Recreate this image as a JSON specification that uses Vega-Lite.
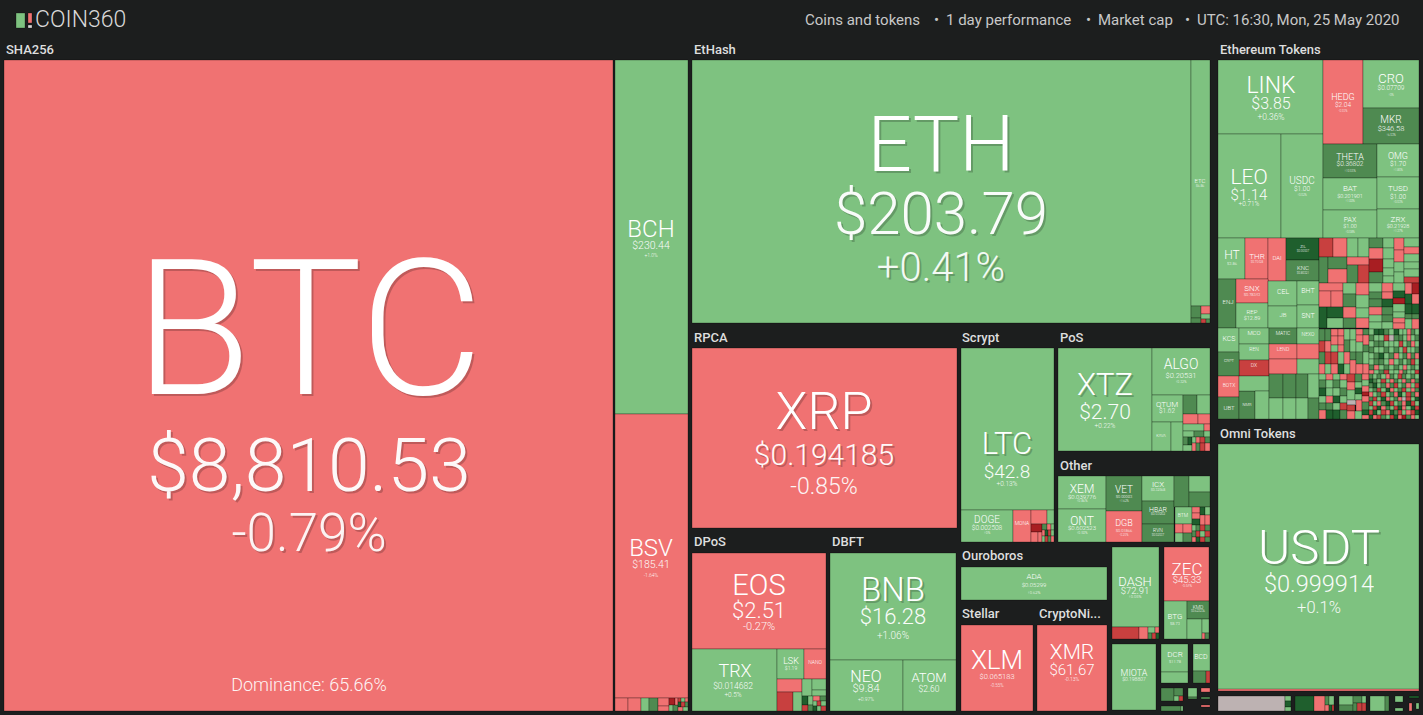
{"$schema":"https://vega.github.io/schema/vega-lite/v6.json","width":1423,"height":715,"padding":0,"autosize":"none","background":"#1c1e1e","config":{"view":{"stroke":null}},
"datasets":{"cells":[
{"name":"logo","x0":16,"x1":25,"y0":13,"y1":28,"m":"g1"},{"name":"logo","x0":28,"x1":32,"y0":13,"y1":23,"m":"r1"},{"name":"logo","x0":28,"x1":32,"y0":25,"y1":28,"m":"w"},
{"name":"BTC","x0":4,"x1":613,"y0":60,"y1":711,"m":"r1"},{"name":"BCH","x0":615,"x1":688,"y0":60,"y1":414,"m":"g1"},{"name":"BSV","x0":615,"x1":688,"y0":414,"y1":698,"m":"r1"},
{"x0":615,"x1":628,"y0":698,"y1":711,"m":"r1"},{"x0":628,"x1":641,"y0":698,"y1":711,"m":"r1"},{"x0":641,"x1":649,"y0":698,"y1":711,"m":"g1"},{"x0":649,"x1":658,"y0":698,"y1":711,"m":"g2"},{"x0":658,"x1":669,"y0":698,"y1":706,"m":"r1"},{"x0":658,"x1":669,"y0":706,"y1":711,"m":"r1"},{"x0":669,"x1":675,"y0":698,"y1":705,"m":"r3"},{"x0":669,"x1":673,"y0":705,"y1":711,"m":"g1"},{"x0":673,"x1":678,"y0":705,"y1":711,"m":"g2"},{"x0":675,"x1":678,"y0":698,"y1":705,"m":"r1"},{"x0":678,"x1":681,"y0":698,"y1":702,"m":"r2"},{"x0":681,"x1":685,"y0":698,"y1":702,"m":"g1"},{"x0":685,"x1":688,"y0":698,"y1":702,"m":"r1"},{"x0":678,"x1":681,"y0":702,"y1":707,"m":"g3"},{"x0":681,"x1":685,"y0":702,"y1":707,"m":"r2"},{"x0":685,"x1":688,"y0":702,"y1":707,"m":"g2"},{"x0":678,"x1":683,"y0":707,"y1":711,"m":"r1"},{"x0":683,"x1":688,"y0":707,"y1":711,"m":"g1"},
{"name":"ETH","x0":692,"x1":1191,"y0":60,"y1":323,"m":"g1"},{"name":"ETC","x0":1191,"x1":1210,"y0":60,"y1":306,"m":"g1"},{"x0":1191,"x1":1201,"y0":306,"y1":318,"m":"g2"},{"x0":1191,"x1":1201,"y0":318,"y1":323,"m":"g2"},{"x0":1201,"x1":1210,"y0":306,"y1":314,"m":"r1"},{"x0":1201,"x1":1210,"y0":314,"y1":319,"m":"g1"},{"x0":1201,"x1":1206,"y0":319,"y1":323,"m":"r2"},{"x0":1206,"x1":1210,"y0":319,"y1":323,"m":"g2"},
{"name":"XRP","x0":692,"x1":957,"y0":348,"y1":528,"m":"r1"},{"name":"LTC","x0":961,"x1":1054,"y0":348,"y1":510,"m":"g1"},{"name":"DOGE","x0":961,"x1":1013,"y0":510,"y1":542,"m":"g1"},{"name":"MONA","x0":1013,"x1":1031,"y0":510,"y1":542,"m":"r1"},{"x0":1031,"x1":1047,"y0":510,"y1":524,"m":"r1"},{"x0":1047,"x1":1054,"y0":510,"y1":524,"m":"g1"},{"x0":1031,"x1":1042,"y0":524,"y1":532,"m":"r3"},{"x0":1031,"x1":1038,"y0":532,"y1":542,"m":"r1"},{"x0":1038,"x1":1042,"y0":532,"y1":542,"m":"r1"},{"x0":1042,"x1":1047,"y0":524,"y1":530,"m":"g2"},{"x0":1047,"x1":1051,"y0":524,"y1":530,"m":"r1"},{"x0":1051,"x1":1054,"y0":524,"y1":530,"m":"g1"},{"x0":1042,"x1":1045,"y0":530,"y1":536,"m":"r1"},{"x0":1045,"x1":1048,"y0":530,"y1":536,"m":"g3"},{"x0":1048,"x1":1051,"y0":530,"y1":536,"m":"r2"},{"x0":1051,"x1":1054,"y0":530,"y1":536,"m":"g1"},{"x0":1042,"x1":1045,"y0":536,"y1":542,"m":"g1"},{"x0":1045,"x1":1048,"y0":536,"y1":542,"m":"r2"},{"x0":1048,"x1":1051,"y0":536,"y1":542,"m":"g2"},{"x0":1051,"x1":1054,"y0":536,"y1":542,"m":"r1"},
{"name":"XTZ","x0":1058,"x1":1152,"y0":348,"y1":451,"m":"g1"},{"name":"ALGO","x0":1152,"x1":1210,"y0":348,"y1":395,"m":"g1"},{"name":"QTUM","x0":1152,"x1":1183,"y0":395,"y1":422,"m":"g1"},{"x0":1152,"x1":1171,"y0":422,"y1":451,"m":"g1"},{"x0":1171,"x1":1183,"y0":422,"y1":451,"m":"g1"},{"x0":1183,"x1":1197,"y0":395,"y1":414,"m":"g2"},{"x0":1197,"x1":1210,"y0":395,"y1":414,"m":"g1"},{"x0":1183,"x1":1198,"y0":414,"y1":424,"m":"r1"},{"x0":1198,"x1":1210,"y0":414,"y1":424,"m":"r1"},{"x0":1183,"x1":1204,"y0":424,"y1":431,"m":"g1"},{"x0":1204,"x1":1210,"y0":424,"y1":431,"m":"r1"},{"x0":1183,"x1":1194,"y0":431,"y1":437,"m":"g1"},{"x0":1194,"x1":1204,"y0":431,"y1":437,"m":"g2"},{"x0":1204,"x1":1210,"y0":431,"y1":437,"m":"g1"},{"x0":1183,"x1":1188,"y0":437,"y1":445,"m":"g2"},{"x0":1188,"x1":1192,"y0":437,"y1":445,"m":"g3"},{"x0":1192,"x1":1196,"y0":437,"y1":443,"m":"g1"},{"x0":1196,"x1":1200,"y0":437,"y1":443,"m":"r1"},{"x0":1200,"x1":1205,"y0":437,"y1":443,"m":"r2"},{"x0":1205,"x1":1210,"y0":437,"y1":443,"m":"g2"},{"x0":1183,"x1":1192,"y0":445,"y1":451,"m":"g1"},{"x0":1192,"x1":1196,"y0":443,"y1":451,"m":"r1"},{"x0":1196,"x1":1200,"y0":443,"y1":451,"m":"g2"},{"x0":1200,"x1":1205,"y0":443,"y1":451,"m":"r2"},{"x0":1205,"x1":1210,"y0":443,"y1":451,"m":"r1"},
{"name":"XEM","x0":1058,"x1":1106,"y0":476,"y1":509,"m":"g1"},{"name":"ONT","x0":1058,"x1":1106,"y0":509,"y1":542,"m":"g1"},{"name":"VET","x0":1106,"x1":1142,"y0":476,"y1":511,"m":"g2"},{"name":"DGB","x0":1106,"x1":1142,"y0":511,"y1":542,"m":"r1"},{"name":"ICX","x0":1142,"x1":1174,"y0":476,"y1":501,"m":"g1"},{"name":"HBAR","x0":1142,"x1":1174,"y0":501,"y1":524,"m":"g2"},{"name":"RVN","x0":1142,"x1":1174,"y0":524,"y1":542,"m":"g2"},{"x0":1174,"x1":1189,"y0":476,"y1":507,"m":"g2"},{"x0":1189,"x1":1210,"y0":476,"y1":492,"m":"g1"},{"x0":1189,"x1":1210,"y0":492,"y1":507,"m":"g2"},{"name":"BTM","x0":1175,"x1":1192,"y0":507,"y1":524,"m":"g1"},{"x0":1175,"x1":1183,"y0":524,"y1":533,"m":"r1"},{"x0":1183,"x1":1192,"y0":524,"y1":533,"m":"r1"},{"x0":1175,"x1":1183,"y0":533,"y1":542,"m":"g1"},{"x0":1183,"x1":1192,"y0":533,"y1":542,"m":"g2"},{"x0":1192,"x1":1200,"y0":507,"y1":513,"m":"r1"},{"x0":1192,"x1":1200,"y0":513,"y1":519,"m":"r1"},{"x0":1200,"x1":1205,"y0":507,"y1":515,"m":"g3"},{"x0":1205,"x1":1210,"y0":507,"y1":515,"m":"g1"},{"x0":1192,"x1":1200,"y0":519,"y1":525,"m":"g3"},{"x0":1200,"x1":1205,"y0":515,"y1":525,"m":"r1"},{"x0":1205,"x1":1210,"y0":515,"y1":525,"m":"r1"},{"x0":1192,"x1":1196,"y0":525,"y1":531,"m":"g1"},{"x0":1196,"x1":1200,"y0":525,"y1":531,"m":"g2"},{"x0":1200,"x1":1205,"y0":525,"y1":531,"m":"r2"},{"x0":1205,"x1":1210,"y0":525,"y1":531,"m":"g2"},{"x0":1192,"x1":1196,"y0":531,"y1":537,"m":"g2"},{"x0":1196,"x1":1200,"y0":531,"y1":537,"m":"r2"},{"x0":1200,"x1":1205,"y0":531,"y1":537,"m":"g1"},{"x0":1205,"x1":1210,"y0":531,"y1":537,"m":"r2"},{"x0":1192,"x1":1196,"y0":537,"y1":542,"m":"r1"},{"x0":1196,"x1":1200,"y0":537,"y1":542,"m":"g3"},{"x0":1200,"x1":1205,"y0":537,"y1":542,"m":"r2"},{"x0":1205,"x1":1210,"y0":537,"y1":542,"m":"g2"},
{"name":"EOS","x0":692,"x1":826,"y0":553,"y1":649,"m":"r1"},{"name":"TRX","x0":692,"x1":777,"y0":649,"y1":711,"m":"g1"},{"name":"LSK","x0":777,"x1":804,"y0":649,"y1":679,"m":"g1"},{"name":"NANO","x0":804,"x1":826,"y0":649,"y1":679,"m":"r1"},{"x0":777,"x1":802,"y0":679,"y1":692,"m":"r1"},{"x0":777,"x1":793,"y0":692,"y1":711,"m":"r2"},{"x0":793,"x1":802,"y0":692,"y1":711,"m":"g1"},{"x0":802,"x1":812,"y0":679,"y1":696,"m":"g1"},{"x0":812,"x1":826,"y0":679,"y1":690,"m":"g1"},{"x0":812,"x1":826,"y0":690,"y1":696,"m":"g1"},{"x0":802,"x1":808,"y0":696,"y1":705,"m":"g3"},{"x0":808,"x1":813,"y0":696,"y1":705,"m":"g1"},{"x0":802,"x1":808,"y0":705,"y1":711,"m":"r2"},{"x0":808,"x1":813,"y0":705,"y1":711,"m":"g2"},{"x0":813,"x1":820,"y0":696,"y1":701,"m":"r1"},{"x0":820,"x1":826,"y0":696,"y1":701,"m":"g2"},{"x0":813,"x1":817,"y0":701,"y1":706,"m":"g1"},{"x0":817,"x1":821,"y0":701,"y1":706,"m":"r2"},{"x0":821,"x1":826,"y0":701,"y1":706,"m":"g1"},{"x0":813,"x1":817,"y0":706,"y1":711,"m":"g3"},{"x0":817,"x1":821,"y0":706,"y1":711,"m":"g1"},{"x0":821,"x1":826,"y0":706,"y1":711,"m":"r2"},
{"name":"BNB","x0":830,"x1":956,"y0":553,"y1":660,"m":"g1"},{"name":"NEO","x0":830,"x1":903,"y0":660,"y1":711,"m":"g1"},{"name":"ATOM","x0":903,"x1":956,"y0":660,"y1":711,"m":"g1"},{"name":"ADA","x0":961,"x1":1107,"y0":567,"y1":600,"m":"g1"},{"name":"XLM","x0":961,"x1":1033,"y0":625,"y1":711,"m":"r1"},{"name":"XMR","x0":1037,"x1":1107,"y0":625,"y1":711,"m":"r1"},
{"name":"DASH","x0":1112,"x1":1159,"y0":547,"y1":627,"m":"g1"},{"x0":1112,"x1":1139,"y0":627,"y1":639,"m":"r2"},{"x0":1139,"x1":1148,"y0":627,"y1":639,"m":"r1"},{"x0":1148,"x1":1155,"y0":627,"y1":633,"m":"g1"},{"x0":1155,"x1":1159,"y0":627,"y1":633,"m":"r1"},{"x0":1148,"x1":1152,"y0":633,"y1":639,"m":"g2"},{"x0":1152,"x1":1156,"y0":633,"y1":639,"m":"r2"},{"x0":1156,"x1":1159,"y0":633,"y1":639,"m":"g3"},
{"name":"ZEC","x0":1164,"x1":1209,"y0":547,"y1":601,"m":"r1"},{"name":"BTG","x0":1164,"x1":1187,"y0":601,"y1":639,"m":"g1"},{"name":"KMD","x0":1187,"x1":1209,"y0":601,"y1":619,"m":"g2"},{"x0":1187,"x1":1202,"y0":619,"y1":639,"m":"g1"},{"x0":1202,"x1":1209,"y0":619,"y1":633,"m":"g1"},{"x0":1202,"x1":1205,"y0":633,"y1":639,"m":"r1"},{"x0":1205,"x1":1209,"y0":633,"y1":639,"m":"g2"},
{"name":"MIOTA","x0":1112,"x1":1156,"y0":644,"y1":710,"m":"g1"},{"name":"DCR","x0":1161,"x1":1188,"y0":644,"y1":672,"m":"g1"},{"x0":1161,"x1":1188,"y0":672,"y1":683,"m":"g1"},{"name":"BCD","x0":1193,"x1":1210,"y0":644,"y1":671,"m":"g1"},{"x0":1193,"x1":1206,"y0":671,"y1":683,"m":"g2"},{"x0":1206,"x1":1210,"y0":671,"y1":683,"m":"r2"},
{"x0":1161,"x1":1174,"y0":688,"y1":701,"m":"g2"},{"x0":1174,"x1":1183,"y0":688,"y1":696,"m":"g2"},{"x0":1174,"x1":1179,"y0":696,"y1":701,"m":"g1"},{"x0":1179,"x1":1183,"y0":696,"y1":701,"m":"r2"},{"x0":1188,"x1":1197,"y0":688,"y1":697,"m":"g1"},{"x0":1188,"x1":1197,"y0":697,"y1":699,"m":"g2"},{"x0":1201,"x1":1210,"y0":688,"y1":692,"m":"r1"},{"x0":1201,"x1":1210,"y0":697,"y1":699,"m":"g2"},{"x0":1161,"x1":1181,"y0":706,"y1":711,"m":"g2"},{"x0":1181,"x1":1183,"y0":706,"y1":711,"m":"g1"},{"x0":1201,"x1":1210,"y0":705,"y1":707,"m":"r1"},
{"name":"USDT","x0":1218,"x1":1419,"y0":444,"y1":690,"m":"g1"},{"x0":1218,"x1":1419,"y0":689,"y1":691,"m":"r1"},{"x0":1218,"x1":1285,"y0":696,"y1":711,"m":"n"},{"x0":1285,"x1":1291,"y0":696,"y1":701,"m":"g1"},{"x0":1285,"x1":1291,"y0":701,"y1":707,"m":"g3"},{"x0":1285,"x1":1291,"y0":707,"y1":711,"m":"g1"},{"x0":1295,"x1":1314,"y0":696,"y1":711,"m":"g3"},{"x0":1314,"x1":1325,"y0":696,"y1":711,"m":"r1"},{"x0":1325,"x1":1329,"y0":696,"y1":705,"m":"g2"},{"x0":1329,"x1":1334,"y0":696,"y1":705,"m":"g1"},{"x0":1325,"x1":1329,"y0":705,"y1":711,"m":"r1"},{"x0":1329,"x1":1332,"y0":705,"y1":711,"m":"g3"},{"x0":1332,"x1":1334,"y0":705,"y1":711,"m":"r2"},{"x0":1339,"x1":1353,"y0":696,"y1":705,"m":"g1"},{"x0":1339,"x1":1353,"y0":705,"y1":711,"m":"g2"},{"x0":1353,"x1":1362,"y0":696,"y1":703,"m":"g2"},{"x0":1362,"x1":1366,"y0":696,"y1":703,"m":"g1"},{"x0":1353,"x1":1357,"y0":703,"y1":711,"m":"g2"},{"x0":1357,"x1":1362,"y0":703,"y1":711,"m":"r2"},{"x0":1362,"x1":1366,"y0":703,"y1":711,"m":"r2"},{"x0":1370,"x1":1385,"y0":696,"y1":711,"m":"g1"},{"x0":1385,"x1":1389,"y0":696,"y1":711,"m":"g2"},{"x0":1395,"x1":1403,"y0":696,"y1":702,"m":"g1"},{"x0":1395,"x1":1403,"y0":708,"y1":711,"m":"g1"},{"x0":1409,"x1":1419,"y0":696,"y1":698,"m":"g3"},{"x0":1409,"x1":1412,"y0":703,"y1":711,"m":"r1"},{"x0":1416,"x1":1419,"y0":703,"y1":709,"m":"g1"},
{"name":"LINK","x0":1218,"x1":1323,"y0":60,"y1":134,"m":"g1"},{"name":"LEO","x0":1218,"x1":1281,"y0":134,"y1":238,"m":"g1"},{"name":"USDC","x0":1281,"x1":1323,"y0":134,"y1":238,"m":"g1"},{"name":"HEDG","x0":1323,"x1":1363,"y0":60,"y1":144,"m":"r1"},{"name":"CRO","x0":1363,"x1":1419,"y0":60,"y1":108,"m":"g1"},{"name":"MKR","x0":1363,"x1":1419,"y0":108,"y1":144,"m":"g2"},{"name":"THETA","x0":1323,"x1":1377,"y0":144,"y1":178,"m":"g2"},{"name":"OMG","x0":1377,"x1":1419,"y0":144,"y1":177,"m":"g1"},{"name":"BAT","x0":1323,"x1":1377,"y0":178,"y1":210,"m":"g1"},{"name":"TUSD","x0":1377,"x1":1419,"y0":177,"y1":209,"m":"g1"},{"name":"PAX","x0":1323,"x1":1377,"y0":210,"y1":238,"m":"g1"},{"name":"ZRX","x0":1377,"x1":1419,"y0":209,"y1":238,"m":"g1"},
{"name":"HT","x0":1218,"x1":1245,"y0":238,"y1":279,"m":"g1"},{"name":"THR","x0":1245,"x1":1268,"y0":238,"y1":279,"m":"r1"},{"name":"DAI","x0":1268,"x1":1286,"y0":238,"y1":281,"m":"r1"},{"name":"ZIL","x0":1286,"x1":1319,"y0":238,"y1":260,"m":"g3"},{"name":"KNC","x0":1286,"x1":1319,"y0":260,"y1":281,"m":"g2"},{"name":"ENJ","x0":1218,"x1":1236,"y0":279,"y1":328,"m":"g2"},{"name":"SNX","x0":1236,"x1":1268,"y0":279,"y1":303,"m":"r1"},{"name":"REP","x0":1236,"x1":1268,"y0":303,"y1":328,"m":"g1"},{"name":"CEL","x0":1268,"x1":1297,"y0":281,"y1":306,"m":"g1"},{"name":"BHT","x0":1297,"x1":1319,"y0":281,"y1":305,"m":"g1"},{"name":"JB","x0":1268,"x1":1297,"y0":306,"y1":328,"m":"g1"},{"name":"SNT","x0":1297,"x1":1319,"y0":305,"y1":328,"m":"g1"},{"name":"KCS","x0":1218,"x1":1239,"y0":328,"y1":352,"m":"g1"},{"name":"MCO","x0":1239,"x1":1269,"y0":328,"y1":344,"m":"g1"},{"name":"REN","x0":1239,"x1":1269,"y0":344,"y1":360,"m":"g1"},{"name":"DX","x0":1239,"x1":1269,"y0":360,"y1":376,"m":"r2"},{"name":"MATIC","x0":1269,"x1":1297,"y0":328,"y1":344,"m":"g2"},{"name":"NEXO","x0":1297,"x1":1319,"y0":328,"y1":344,"m":"g1"},{"name":"LEND","x0":1269,"x1":1297,"y0":344,"y1":359,"m":"r1"},{"x0":1297,"x1":1319,"y0":344,"y1":359,"m":"r1"},{"x0":1269,"x1":1297,"y0":359,"y1":374,"m":"r1"},{"x0":1297,"x1":1319,"y0":359,"y1":374,"m":"g1"},{"x0":1218,"x1":1239,"y0":352,"y1":376,"m":"g2"},{"name":"BOTX","x0":1218,"x1":1239,"y0":376,"y1":397,"m":"r1"},{"name":"UBT","x0":1218,"x1":1239,"y0":397,"y1":419,"m":"g2"},{"x0":1239,"x1":1255,"y0":391,"y1":419,"m":"g2"},{"x0":1239,"x1":1269,"y0":376,"y1":391,"m":"g1"},{"x0":1255,"x1":1269,"y0":391,"y1":419,"m":"g1"},{"x0":1269,"x1":1283,"y0":374,"y1":398,"m":"g2"},{"x0":1283,"x1":1296,"y0":374,"y1":398,"m":"g2"},{"x0":1296,"x1":1308,"y0":374,"y1":398,"m":"g2"},{"x0":1308,"x1":1319,"y0":374,"y1":398,"m":"g1"},{"x0":1269,"x1":1283,"y0":398,"y1":419,"m":"g1"},{"x0":1283,"x1":1296,"y0":398,"y1":419,"m":"g1"},{"x0":1296,"x1":1308,"y0":398,"y1":419,"m":"g1"},{"x0":1308,"x1":1319,"y0":398,"y1":419,"m":"g2"},
{"x0":1319,"x1":1333,"y0":238,"y1":257,"m":"r2"},{"x0":1333,"x1":1347,"y0":238,"y1":257,"m":"r1"},{"x0":1347,"x1":1358,"y0":238,"y1":257,"m":"g1"},{"x0":1358,"x1":1369,"y0":238,"y1":257,"m":"g1"},{"x0":1319,"x1":1328,"y0":257,"y1":283,"m":"g2"},{"x0":1328,"x1":1347,"y0":257,"y1":269,"m":"g2"},{"x0":1328,"x1":1347,"y0":269,"y1":283,"m":"r1"},{"x0":1347,"x1":1369,"y0":257,"y1":265,"m":"r1"},{"x0":1347,"x1":1358,"y0":265,"y1":283,"m":"g2"},{"x0":1358,"x1":1369,"y0":265,"y1":283,"m":"r2"},{"x0":1319,"x1":1343,"y0":283,"y1":291,"m":"r1"},{"x0":1319,"x1":1331,"y0":291,"y1":307,"m":"r1"},{"x0":1331,"x1":1343,"y0":291,"y1":307,"m":"r1"},{"x0":1343,"x1":1356,"y0":283,"y1":294,"m":"g1"},{"x0":1343,"x1":1356,"y0":294,"y1":307,"m":"g2"},{"x0":1343,"x1":1356,"y0":307,"y1":318,"m":"r1"},{"x0":1343,"x1":1356,"y0":318,"y1":328,"m":"g2"},{"x0":1356,"x1":1369,"y0":283,"y1":295,"m":"r1"},{"x0":1356,"x1":1369,"y0":295,"y1":308,"m":"g1"},{"x0":1356,"x1":1369,"y0":308,"y1":318,"m":"g1"},{"x0":1356,"x1":1369,"y0":318,"y1":328,"m":"r1"},{"x0":1319,"x1":1327,"y0":307,"y1":328,"m":"g3"},{"x0":1327,"x1":1343,"y0":307,"y1":318,"m":"g3"},{"x0":1327,"x1":1343,"y0":318,"y1":328,"m":"g1"},
{"x0":1369,"x1":1383,"y0":238,"y1":248,"m":"g2"},{"x0":1369,"x1":1383,"y0":248,"y1":259,"m":"r1"},{"x0":1369,"x1":1383,"y0":259,"y1":272,"m":"r3"},{"x0":1369,"x1":1383,"y0":272,"y1":283,"m":"g2"},{"x0":1383,"x1":1394,"y0":238,"y1":248,"m":"g1"},{"x0":1383,"x1":1394,"y0":248,"y1":259,"m":"g1"},{"x0":1383,"x1":1394,"y0":259,"y1":268,"m":"g1"},{"x0":1383,"x1":1394,"y0":268,"y1":276,"m":"g1"},{"x0":1383,"x1":1394,"y0":276,"y1":283,"m":"g1"},{"x0":1394,"x1":1404,"y0":238,"y1":250,"m":"r1"},{"x0":1394,"x1":1404,"y0":250,"y1":262,"m":"r1"},{"x0":1394,"x1":1404,"y0":262,"y1":272,"m":"g1"},{"x0":1394,"x1":1404,"y0":272,"y1":283,"m":"g1"},{"x0":1404,"x1":1419,"y0":238,"y1":247,"m":"g1"},{"x0":1404,"x1":1419,"y0":247,"y1":254,"m":"r1"},{"x0":1404,"x1":1419,"y0":254,"y1":262,"m":"g1"},{"x0":1404,"x1":1419,"y0":262,"y1":269,"m":"g1"},{"x0":1404,"x1":1419,"y0":269,"y1":277,"m":"g1"},{"x0":1404,"x1":1419,"y0":277,"y1":283,"m":"r2"},
{"x0":1369,"x1":1382,"y0":283,"y1":292,"m":"g1"},{"x0":1369,"x1":1382,"y0":292,"y1":299,"m":"g2"},{"x0":1369,"x1":1382,"y0":299,"y1":307,"m":"g2"},{"x0":1369,"x1":1382,"y0":307,"y1":315,"m":"r1"},{"x0":1369,"x1":1382,"y0":315,"y1":322,"m":"g1"},{"x0":1369,"x1":1382,"y0":322,"y1":329,"m":"g1"},{"x0":1382,"x1":1393,"y0":283,"y1":292,"m":"r1"},{"x0":1382,"x1":1393,"y0":292,"y1":299,"m":"r1"},{"x0":1382,"x1":1393,"y0":299,"y1":307,"m":"g3"},{"x0":1382,"x1":1393,"y0":307,"y1":315,"m":"g2"},{"x0":1382,"x1":1393,"y0":315,"y1":322,"m":"g2"},{"x0":1382,"x1":1393,"y0":322,"y1":329,"m":"g1"},{"x0":1393,"x1":1405,"y0":283,"y1":291,"m":"g1"},{"x0":1393,"x1":1405,"y0":291,"y1":298,"m":"g3"},{"x0":1393,"x1":1405,"y0":298,"y1":304,"m":"r3"},{"x0":1393,"x1":1405,"y0":304,"y1":312,"m":"g1"},{"x0":1393,"x1":1405,"y0":312,"y1":318,"m":"g1"},{"x0":1393,"x1":1405,"y0":318,"y1":323,"m":"r1"},{"x0":1393,"x1":1405,"y0":323,"y1":329,"m":"r1"},{"x0":1405,"x1":1412,"y0":283,"y1":294,"m":"r1"},{"x0":1405,"x1":1412,"y0":294,"y1":304,"m":"g3"},{"x0":1405,"x1":1412,"y0":304,"y1":314,"m":"g3"},{"x0":1405,"x1":1412,"y0":314,"y1":319,"m":"g2"},{"x0":1405,"x1":1412,"y0":319,"y1":329,"m":"g1"},{"x0":1412,"x1":1419,"y0":283,"y1":294,"m":"r3"},{"x0":1412,"x1":1419,"y0":294,"y1":304,"m":"r1"},{"x0":1412,"x1":1419,"y0":304,"y1":314,"m":"g3"},{"x0":1412,"x1":1419,"y0":314,"y1":319,"m":"g2"},{"x0":1412,"x1":1419,"y0":319,"y1":329,"m":"r1"},
{"x0":1319,"x1":1325,"y0":329,"y1":341,"m":"g2"},{"x0":1319,"x1":1325,"y0":341,"y1":352,"m":"r2"},{"x0":1319,"x1":1325,"y0":352,"y1":364,"m":"g2"},{"x0":1319,"x1":1325,"y0":364,"y1":374,"m":"r1"},{"x0":1325,"x1":1331,"y0":329,"y1":341,"m":"g2"},{"x0":1325,"x1":1331,"y0":341,"y1":352,"m":"r1"},{"x0":1325,"x1":1331,"y0":352,"y1":364,"m":"r2"},{"x0":1325,"x1":1331,"y0":364,"y1":374,"m":"g1"},{"x0":1331,"x1":1338,"y0":329,"y1":336,"m":"r1"},{"x0":1331,"x1":1338,"y0":336,"y1":345,"m":"r1"},{"x0":1331,"x1":1338,"y0":345,"y1":352,"m":"g1"},{"x0":1331,"x1":1338,"y0":352,"y1":364,"m":"r2"},{"x0":1331,"x1":1338,"y0":364,"y1":374,"m":"r1"},{"x0":1338,"x1":1344,"y0":329,"y1":336,"m":"r1"},{"x0":1338,"x1":1344,"y0":336,"y1":345,"m":"r1"},{"x0":1338,"x1":1344,"y0":345,"y1":352,"m":"r1"},{"x0":1338,"x1":1344,"y0":352,"y1":364,"m":"g1"},{"x0":1338,"x1":1344,"y0":364,"y1":374,"m":"g3"},{"x0":1344,"x1":1350,"y0":329,"y1":340,"m":"g1"},{"x0":1344,"x1":1350,"y0":340,"y1":352,"m":"g2"},{"x0":1344,"x1":1350,"y0":352,"y1":364,"m":"r1"},{"x0":1344,"x1":1350,"y0":364,"y1":374,"m":"g1"},{"x0":1350,"x1":1356,"y0":329,"y1":340,"m":"g1"},{"x0":1350,"x1":1356,"y0":340,"y1":352,"m":"g1"},{"x0":1350,"x1":1356,"y0":352,"y1":360,"m":"g2"},{"x0":1350,"x1":1356,"y0":360,"y1":374,"m":"r1"},{"x0":1356,"x1":1363,"y0":329,"y1":335,"m":"r1"},{"x0":1356,"x1":1363,"y0":335,"y1":342,"m":"r1"},{"x0":1356,"x1":1363,"y0":342,"y1":352,"m":"g1"},{"x0":1356,"x1":1363,"y0":352,"y1":364,"m":"g2"},{"x0":1356,"x1":1363,"y0":364,"y1":374,"m":"r1"},{"x0":1363,"x1":1369,"y0":329,"y1":335,"m":"g2"},{"x0":1363,"x1":1369,"y0":335,"y1":345,"m":"r1"},{"x0":1363,"x1":1369,"y0":345,"y1":352,"m":"g2"},{"x0":1363,"x1":1369,"y0":352,"y1":364,"m":"g1"},{"x0":1363,"x1":1369,"y0":364,"y1":374,"m":"r1"},
{"x0":1369,"x1":1374,"y0":329,"y1":335,"m":"g1"},{"x0":1374,"x1":1379,"y0":329,"y1":335,"m":"g3"},{"x0":1379,"x1":1384,"y0":329,"y1":335,"m":"g3"},{"x0":1384,"x1":1389,"y0":329,"y1":335,"m":"g2"},{"x0":1389,"x1":1394,"y0":329,"y1":335,"m":"g1"},{"x0":1394,"x1":1399,"y0":329,"y1":335,"m":"g3"},{"x0":1399,"x1":1403,"y0":329,"y1":335,"m":"g1"},{"x0":1403,"x1":1407,"y0":329,"y1":335,"m":"g1"},{"x0":1407,"x1":1411,"y0":329,"y1":335,"m":"r1"},{"x0":1411,"x1":1415,"y0":329,"y1":335,"m":"g2"},{"x0":1415,"x1":1419,"y0":329,"y1":335,"m":"g1"},
{"x0":1369,"x1":1374,"y0":335,"y1":341,"m":"g2"},{"x0":1374,"x1":1379,"y0":335,"y1":341,"m":"g1"},{"x0":1379,"x1":1384,"y0":335,"y1":341,"m":"g1"},{"x0":1384,"x1":1389,"y0":335,"y1":341,"m":"r2"},{"x0":1389,"x1":1394,"y0":335,"y1":341,"m":"n"},{"x0":1394,"x1":1399,"y0":335,"y1":341,"m":"g2"},{"x0":1399,"x1":1403,"y0":335,"y1":341,"m":"g2"},{"x0":1403,"x1":1407,"y0":335,"y1":341,"m":"g1"},{"x0":1407,"x1":1411,"y0":335,"y1":341,"m":"r1"},{"x0":1411,"x1":1415,"y0":335,"y1":341,"m":"g1"},{"x0":1415,"x1":1419,"y0":335,"y1":341,"m":"g2"},
{"x0":1369,"x1":1374,"y0":341,"y1":347,"m":"g1"},{"x0":1374,"x1":1379,"y0":341,"y1":347,"m":"g2"},{"x0":1379,"x1":1384,"y0":341,"y1":347,"m":"g2"},{"x0":1384,"x1":1389,"y0":341,"y1":347,"m":"g1"},{"x0":1389,"x1":1394,"y0":341,"y1":347,"m":"g1"},{"x0":1394,"x1":1399,"y0":341,"y1":347,"m":"g1"},{"x0":1399,"x1":1403,"y0":341,"y1":347,"m":"r2"},{"x0":1403,"x1":1407,"y0":341,"y1":347,"m":"g1"},{"x0":1407,"x1":1411,"y0":341,"y1":347,"m":"g2"},{"x0":1411,"x1":1415,"y0":341,"y1":347,"m":"r1"},{"x0":1415,"x1":1419,"y0":341,"y1":347,"m":"g1"},
{"x0":1369,"x1":1374,"y0":347,"y1":353,"m":"g2"},{"x0":1374,"x1":1379,"y0":347,"y1":353,"m":"g1"},{"x0":1379,"x1":1384,"y0":347,"y1":353,"m":"g1"},{"x0":1384,"x1":1389,"y0":347,"y1":353,"m":"g2"},{"x0":1389,"x1":1394,"y0":347,"y1":353,"m":"g1"},{"x0":1394,"x1":1399,"y0":347,"y1":353,"m":"g2"},{"x0":1399,"x1":1403,"y0":347,"y1":353,"m":"g1"},{"x0":1403,"x1":1407,"y0":347,"y1":353,"m":"r2"},{"x0":1407,"x1":1411,"y0":347,"y1":353,"m":"g1"},{"x0":1411,"x1":1415,"y0":347,"y1":353,"m":"g1"},{"x0":1415,"x1":1419,"y0":347,"y1":353,"m":"g2"},
{"x0":1369,"x1":1374,"y0":353,"y1":359,"m":"g1"},{"x0":1374,"x1":1379,"y0":353,"y1":359,"m":"g2"},{"x0":1379,"x1":1384,"y0":353,"y1":359,"m":"g3"},{"x0":1384,"x1":1389,"y0":353,"y1":359,"m":"g1"},{"x0":1389,"x1":1394,"y0":353,"y1":359,"m":"g2"},{"x0":1394,"x1":1399,"y0":353,"y1":359,"m":"r1"},{"x0":1399,"x1":1403,"y0":353,"y1":359,"m":"g1"},{"x0":1403,"x1":1407,"y0":353,"y1":359,"m":"g2"},{"x0":1407,"x1":1411,"y0":353,"y1":359,"m":"r1"},{"x0":1411,"x1":1415,"y0":353,"y1":359,"m":"g2"},{"x0":1415,"x1":1419,"y0":353,"y1":359,"m":"r1"},
{"x0":1369,"x1":1374,"y0":359,"y1":365,"m":"g1"},{"x0":1374,"x1":1379,"y0":359,"y1":365,"m":"g2"},{"x0":1379,"x1":1384,"y0":359,"y1":365,"m":"g2"},{"x0":1384,"x1":1389,"y0":359,"y1":365,"m":"g1"},{"x0":1389,"x1":1394,"y0":359,"y1":365,"m":"r1"},{"x0":1394,"x1":1399,"y0":359,"y1":365,"m":"g1"},{"x0":1399,"x1":1403,"y0":359,"y1":365,"m":"g2"},{"x0":1403,"x1":1407,"y0":359,"y1":365,"m":"g1"},{"x0":1407,"x1":1411,"y0":359,"y1":365,"m":"g2"},{"x0":1411,"x1":1415,"y0":359,"y1":365,"m":"r2"},{"x0":1415,"x1":1419,"y0":359,"y1":365,"m":"g1"},
{"x0":1369,"x1":1374,"y0":365,"y1":370,"m":"g2"},{"x0":1374,"x1":1379,"y0":365,"y1":370,"m":"r1"},{"x0":1379,"x1":1384,"y0":365,"y1":370,"m":"g1"},{"x0":1384,"x1":1389,"y0":365,"y1":370,"m":"g2"},{"x0":1389,"x1":1394,"y0":365,"y1":370,"m":"g1"},{"x0":1394,"x1":1399,"y0":365,"y1":370,"m":"g2"},{"x0":1399,"x1":1403,"y0":365,"y1":370,"m":"g1"},{"x0":1403,"x1":1407,"y0":365,"y1":370,"m":"r1"},{"x0":1407,"x1":1411,"y0":365,"y1":370,"m":"g1"},{"x0":1411,"x1":1415,"y0":365,"y1":370,"m":"g2"},{"x0":1415,"x1":1419,"y0":365,"y1":370,"m":"g1"},
{"x0":1369,"x1":1374,"y0":370,"y1":374,"m":"r1"},{"x0":1374,"x1":1379,"y0":370,"y1":374,"m":"g1"},{"x0":1379,"x1":1384,"y0":370,"y1":374,"m":"g2"},{"x0":1384,"x1":1389,"y0":370,"y1":374,"m":"r2"},{"x0":1389,"x1":1394,"y0":370,"y1":374,"m":"g1"},{"x0":1394,"x1":1399,"y0":370,"y1":374,"m":"g1"},{"x0":1399,"x1":1403,"y0":370,"y1":374,"m":"r1"},{"x0":1403,"x1":1407,"y0":370,"y1":374,"m":"g2"},{"x0":1407,"x1":1411,"y0":370,"y1":374,"m":"g1"},{"x0":1411,"x1":1415,"y0":370,"y1":374,"m":"g1"},{"x0":1415,"x1":1419,"y0":370,"y1":374,"m":"r2"},
{"x0":1319,"x1":1326,"y0":374,"y1":380,"m":"g1"},{"x0":1319,"x1":1326,"y0":380,"y1":388,"m":"g2"},{"x0":1319,"x1":1326,"y0":388,"y1":396,"m":"g3"},{"x0":1319,"x1":1326,"y0":396,"y1":403,"m":"g1"},{"x0":1319,"x1":1326,"y0":403,"y1":410,"m":"g2"},{"x0":1319,"x1":1326,"y0":410,"y1":419,"m":"r1"},{"x0":1326,"x1":1333,"y0":374,"y1":380,"m":"r1"},{"x0":1326,"x1":1333,"y0":380,"y1":388,"m":"g1"},{"x0":1326,"x1":1333,"y0":388,"y1":396,"m":"g1"},{"x0":1326,"x1":1333,"y0":396,"y1":403,"m":"r1"},{"x0":1326,"x1":1333,"y0":403,"y1":410,"m":"g2"},{"x0":1326,"x1":1333,"y0":410,"y1":419,"m":"g3"},{"x0":1333,"x1":1340,"y0":374,"y1":380,"m":"g1"},{"x0":1333,"x1":1340,"y0":380,"y1":388,"m":"g2"},{"x0":1333,"x1":1340,"y0":388,"y1":396,"m":"g1"},{"x0":1333,"x1":1340,"y0":396,"y1":403,"m":"g3"},{"x0":1333,"x1":1340,"y0":403,"y1":410,"m":"g1"},{"x0":1333,"x1":1340,"y0":410,"y1":419,"m":"g3"},{"x0":1340,"x1":1347,"y0":374,"y1":380,"m":"r1"},{"x0":1340,"x1":1347,"y0":380,"y1":388,"m":"g1"},{"x0":1340,"x1":1347,"y0":388,"y1":396,"m":"g2"},{"x0":1340,"x1":1347,"y0":396,"y1":403,"m":"g1"},{"x0":1340,"x1":1347,"y0":403,"y1":410,"m":"r2"},{"x0":1340,"x1":1347,"y0":410,"y1":419,"m":"g2"},{"x0":1347,"x1":1355,"y0":374,"y1":382,"m":"r2"},{"x0":1347,"x1":1355,"y0":382,"y1":390,"m":"r1"},{"x0":1347,"x1":1355,"y0":390,"y1":400,"m":"g1"},{"x0":1347,"x1":1356,"y0":400,"y1":405,"m":"n"},{"x0":1347,"x1":1355,"y0":405,"y1":411,"m":"r2"},{"x0":1347,"x1":1355,"y0":411,"y1":419,"m":"r1"},{"x0":1355,"x1":1362,"y0":374,"y1":382,"m":"g2"},{"x0":1355,"x1":1362,"y0":382,"y1":388,"m":"g1"},{"x0":1355,"x1":1362,"y0":388,"y1":394,"m":"g3"},{"x0":1355,"x1":1362,"y0":394,"y1":400,"m":"g1"},{"x0":1356,"x1":1362,"y0":400,"y1":411,"m":"r1"},{"x0":1355,"x1":1362,"y0":411,"y1":419,"m":"g1"},{"x0":1362,"x1":1369,"y0":374,"y1":380,"m":"r1"},{"x0":1362,"x1":1369,"y0":380,"y1":386,"m":"g1"},{"x0":1362,"x1":1369,"y0":386,"y1":392,"m":"r1"},{"x0":1362,"x1":1369,"y0":392,"y1":396,"m":"r3"},{"x0":1362,"x1":1369,"y0":396,"y1":402,"m":"r1"},{"x0":1362,"x1":1369,"y0":402,"y1":410,"m":"g2"},{"x0":1362,"x1":1369,"y0":410,"y1":415,"m":"g3"},{"x0":1362,"x1":1369,"y0":415,"y1":419,"m":"r1"},
{"x0":1369,"x1":1373,"y0":374,"y1":379,"m":"g2"},{"x0":1373,"x1":1377,"y0":374,"y1":379,"m":"g1"},{"x0":1377,"x1":1381,"y0":374,"y1":379,"m":"g2"},{"x0":1381,"x1":1386,"y0":374,"y1":379,"m":"g1"},{"x0":1386,"x1":1390,"y0":374,"y1":379,"m":"r1"},{"x0":1390,"x1":1394,"y0":374,"y1":379,"m":"g2"},{"x0":1394,"x1":1398,"y0":374,"y1":379,"m":"g1"},{"x0":1398,"x1":1402,"y0":374,"y1":379,"m":"r2"},{"x0":1402,"x1":1406,"y0":374,"y1":379,"m":"g2"},{"x0":1406,"x1":1411,"y0":374,"y1":379,"m":"g1"},{"x0":1411,"x1":1415,"y0":374,"y1":379,"m":"g2"},{"x0":1415,"x1":1419,"y0":374,"y1":379,"m":"g1"},
{"x0":1369,"x1":1373,"y0":379,"y1":383,"m":"g3"},{"x0":1373,"x1":1377,"y0":379,"y1":383,"m":"g2"},{"x0":1377,"x1":1381,"y0":379,"y1":383,"m":"g1"},{"x0":1381,"x1":1386,"y0":379,"y1":383,"m":"r2"},{"x0":1386,"x1":1390,"y0":379,"y1":383,"m":"g1"},{"x0":1390,"x1":1394,"y0":379,"y1":383,"m":"r1"},{"x0":1394,"x1":1398,"y0":379,"y1":383,"m":"g2"},{"x0":1398,"x1":1402,"y0":379,"y1":383,"m":"g1"},{"x0":1402,"x1":1406,"y0":379,"y1":383,"m":"r1"},{"x0":1406,"x1":1411,"y0":379,"y1":383,"m":"g2"},{"x0":1411,"x1":1415,"y0":379,"y1":383,"m":"r1"},{"x0":1415,"x1":1419,"y0":379,"y1":383,"m":"g2"},
{"x0":1369,"x1":1373,"y0":383,"y1":388,"m":"g2"},{"x0":1373,"x1":1377,"y0":383,"y1":388,"m":"g3"},{"x0":1377,"x1":1381,"y0":383,"y1":388,"m":"g1"},{"x0":1381,"x1":1386,"y0":383,"y1":388,"m":"g2"},{"x0":1386,"x1":1390,"y0":383,"y1":388,"m":"r1"},{"x0":1390,"x1":1394,"y0":383,"y1":388,"m":"g2"},{"x0":1394,"x1":1398,"y0":383,"y1":388,"m":"r2"},{"x0":1398,"x1":1402,"y0":383,"y1":388,"m":"g1"},{"x0":1402,"x1":1406,"y0":383,"y1":388,"m":"g2"},{"x0":1406,"x1":1411,"y0":383,"y1":388,"m":"r1"},{"x0":1411,"x1":1415,"y0":383,"y1":388,"m":"g1"},{"x0":1415,"x1":1419,"y0":383,"y1":388,"m":"r2"},
{"x0":1369,"x1":1373,"y0":388,"y1":392,"m":"g1"},{"x0":1373,"x1":1377,"y0":388,"y1":392,"m":"g2"},{"x0":1377,"x1":1381,"y0":388,"y1":392,"m":"r2"},{"x0":1381,"x1":1386,"y0":388,"y1":392,"m":"g1"},{"x0":1386,"x1":1390,"y0":388,"y1":392,"m":"g3"},{"x0":1390,"x1":1394,"y0":388,"y1":392,"m":"r1"},{"x0":1394,"x1":1398,"y0":388,"y1":392,"m":"g1"},{"x0":1398,"x1":1402,"y0":388,"y1":392,"m":"g2"},{"x0":1402,"x1":1406,"y0":388,"y1":392,"m":"r2"},{"x0":1406,"x1":1411,"y0":388,"y1":392,"m":"g1"},{"x0":1411,"x1":1415,"y0":388,"y1":392,"m":"r1"},{"x0":1415,"x1":1419,"y0":388,"y1":392,"m":"g2"},
{"x0":1369,"x1":1373,"y0":392,"y1":397,"m":"r1"},{"x0":1373,"x1":1377,"y0":392,"y1":397,"m":"g1"},{"x0":1377,"x1":1381,"y0":392,"y1":397,"m":"g2"},{"x0":1381,"x1":1386,"y0":392,"y1":397,"m":"r2"},{"x0":1386,"x1":1390,"y0":392,"y1":397,"m":"g1"},{"x0":1390,"x1":1394,"y0":392,"y1":397,"m":"g2"},{"x0":1394,"x1":1398,"y0":392,"y1":397,"m":"r1"},{"x0":1398,"x1":1402,"y0":392,"y1":397,"m":"g3"},{"x0":1402,"x1":1406,"y0":392,"y1":397,"m":"g1"},{"x0":1406,"x1":1411,"y0":392,"y1":397,"m":"r2"},{"x0":1411,"x1":1415,"y0":392,"y1":397,"m":"g2"},{"x0":1415,"x1":1419,"y0":392,"y1":397,"m":"r1"},
{"x0":1369,"x1":1373,"y0":397,"y1":401,"m":"g2"},{"x0":1373,"x1":1377,"y0":397,"y1":401,"m":"r2"},{"x0":1377,"x1":1381,"y0":397,"y1":401,"m":"g1"},{"x0":1381,"x1":1386,"y0":397,"y1":401,"m":"g3"},{"x0":1386,"x1":1390,"y0":397,"y1":401,"m":"r1"},{"x0":1390,"x1":1394,"y0":397,"y1":401,"m":"g1"},{"x0":1394,"x1":1398,"y0":397,"y1":401,"m":"g2"},{"x0":1398,"x1":1402,"y0":397,"y1":401,"m":"r1"},{"x0":1402,"x1":1406,"y0":397,"y1":401,"m":"n"},{"x0":1406,"x1":1411,"y0":397,"y1":401,"m":"r2"},{"x0":1411,"x1":1415,"y0":397,"y1":401,"m":"g1"},{"x0":1415,"x1":1419,"y0":397,"y1":401,"m":"g3"},
{"x0":1369,"x1":1373,"y0":401,"y1":406,"m":"r2"},{"x0":1373,"x1":1377,"y0":401,"y1":406,"m":"g1"},{"x0":1377,"x1":1381,"y0":401,"y1":406,"m":"r1"},{"x0":1381,"x1":1386,"y0":401,"y1":406,"m":"g2"},{"x0":1386,"x1":1390,"y0":401,"y1":406,"m":"g3"},{"x0":1390,"x1":1394,"y0":401,"y1":406,"m":"r2"},{"x0":1394,"x1":1398,"y0":401,"y1":406,"m":"g1"},{"x0":1398,"x1":1402,"y0":401,"y1":406,"m":"g2"},{"x0":1402,"x1":1406,"y0":401,"y1":406,"m":"r1"},{"x0":1406,"x1":1411,"y0":401,"y1":406,"m":"g3"},{"x0":1411,"x1":1415,"y0":401,"y1":406,"m":"r2"},{"x0":1415,"x1":1419,"y0":401,"y1":406,"m":"g1"},
{"x0":1369,"x1":1373,"y0":406,"y1":410,"m":"g1"},{"x0":1373,"x1":1377,"y0":406,"y1":410,"m":"r2"},{"x0":1377,"x1":1381,"y0":406,"y1":410,"m":"g3"},{"x0":1381,"x1":1386,"y0":406,"y1":410,"m":"r1"},{"x0":1386,"x1":1390,"y0":406,"y1":410,"m":"g2"},{"x0":1390,"x1":1394,"y0":406,"y1":410,"m":"g1"},{"x0":1394,"x1":1398,"y0":406,"y1":410,"m":"r2"},{"x0":1398,"x1":1402,"y0":406,"y1":410,"m":"g3"},{"x0":1402,"x1":1406,"y0":406,"y1":410,"m":"r1"},{"x0":1406,"x1":1411,"y0":406,"y1":410,"m":"g1"},{"x0":1411,"x1":1415,"y0":406,"y1":410,"m":"g3"},{"x0":1415,"x1":1419,"y0":406,"y1":410,"m":"r2"},
{"x0":1369,"x1":1373,"y0":410,"y1":415,"m":"r2"},{"x0":1373,"x1":1377,"y0":410,"y1":415,"m":"g3"},{"x0":1377,"x1":1381,"y0":410,"y1":415,"m":"g1"},{"x0":1381,"x1":1386,"y0":410,"y1":415,"m":"r2"},{"x0":1386,"x1":1390,"y0":410,"y1":415,"m":"r1"},{"x0":1390,"x1":1394,"y0":410,"y1":415,"m":"g3"},{"x0":1394,"x1":1398,"y0":410,"y1":415,"m":"g2"},{"x0":1398,"x1":1402,"y0":410,"y1":415,"m":"r2"},{"x0":1402,"x1":1406,"y0":410,"y1":415,"m":"g1"},{"x0":1406,"x1":1411,"y0":410,"y1":415,"m":"r1"},{"x0":1411,"x1":1415,"y0":410,"y1":415,"m":"r2"},{"x0":1415,"x1":1419,"y0":410,"y1":415,"m":"g3"},
{"x0":1369,"x1":1373,"y0":415,"y1":419,"m":"g3"},{"x0":1373,"x1":1377,"y0":415,"y1":419,"m":"r1"},{"x0":1377,"x1":1381,"y0":415,"y1":419,"m":"r2"},{"x0":1381,"x1":1386,"y0":415,"y1":419,"m":"g2"},{"x0":1386,"x1":1390,"y0":415,"y1":419,"m":"g1"},{"x0":1390,"x1":1394,"y0":415,"y1":419,"m":"r2"},{"x0":1394,"x1":1398,"y0":415,"y1":419,"m":"g3"},{"x0":1398,"x1":1402,"y0":415,"y1":419,"m":"r1"},{"x0":1402,"x1":1406,"y0":415,"y1":419,"m":"r3"},{"x0":1406,"x1":1411,"y0":415,"y1":419,"m":"g2"},{"x0":1411,"x1":1415,"y0":415,"y1":419,"m":"r1"},{"x0":1415,"x1":1419,"y0":415,"y1":419,"m":"g1"}
],
"labels":[
{"text":"BTC","x":309,"y":337,"pt":190,"line":"symbol"},{"text":"$8,810.53","x":309,"y":468,"pt":75,"line":"price"},{"text":"-0.79%","x":309,"y":535,"pt":53,"line":"change"},
{"text":"BCH","x":651,"y":230,"pt":24,"line":"symbol"},{"text":"$230.44","x":651,"y":246,"pt":10.5,"line":"price"},{"text":"+1.0%","x":651,"y":255,"pt":5,"line":"change"},
{"text":"BSV","x":651,"y":549,"pt":24,"line":"symbol"},{"text":"$185.41","x":651,"y":565,"pt":10.5,"line":"price"},{"text":"-1.64%","x":651,"y":575,"pt":5,"line":"change"},
{"text":"ETC","x":1200,"y":181,"pt":6,"line":"symbol"},{"text":"$6.86","x":1200,"y":186,"pt":3.5,"line":"price"},
{"text":"ETH","x":941,"y":148,"pt":78,"line":"symbol"},{"text":"$203.79","x":941,"y":216,"pt":60,"line":"price"},{"text":"+0.41%","x":941,"y":269,"pt":40,"line":"change"},
{"text":"XRP","x":824,"y":413,"pt":52,"line":"symbol"},{"text":"$0.194185","x":824,"y":456,"pt":30,"line":"price"},{"text":"-0.85%","x":824,"y":487,"pt":23,"line":"change"},
{"text":"LTC","x":1007,"y":445,"pt":31,"line":"symbol"},{"text":"$42.8","x":1007,"y":472,"pt":19,"line":"price"},{"text":"+0.13%","x":1007,"y":484,"pt":6.5,"line":"change"},
{"text":"DOGE","x":987,"y":520,"pt":10,"line":"symbol"},{"text":"$0.002508","x":987,"y":528,"pt":6.5,"line":"price"},{"text":"+0%","x":987,"y":533,"pt":3.5,"line":"change"},
{"text":"MONA","x":1022,"y":523,"pt":5,"line":"symbol"},
{"text":"XTZ","x":1105,"y":386,"pt":31,"line":"symbol"},{"text":"$2.70","x":1105,"y":413,"pt":21,"line":"price"},{"text":"+0.22%","x":1105,"y":426,"pt":6.5,"line":"change"},
{"text":"ALGO","x":1181,"y":365,"pt":14,"line":"symbol"},{"text":"$0.20531","x":1181,"y":376,"pt":7.5,"line":"price"},{"text":"+0.32%","x":1181,"y":382,"pt":3.5,"line":"change"},
{"text":"QTUM","x":1167,"y":405,"pt":8,"line":"symbol"},{"text":"$1.62","x":1167,"y":411,"pt":6.5,"line":"price"},{"text":"KAVA","x":1161,"y":436,"pt":4,"line":"symbol"},
{"text":"XEM","x":1082,"y":489,"pt":12,"line":"symbol"},{"text":"$0.039776","x":1082,"y":497,"pt":6,"line":"price"},{"text":"+0.86%","x":1082,"y":501,"pt":3.5,"line":"change"},
{"text":"ONT","x":1082,"y":521,"pt":12,"line":"symbol"},{"text":"$0.602523","x":1082,"y":528,"pt":6,"line":"price"},{"text":"+0.59%","x":1082,"y":533,"pt":3.5,"line":"change"},
{"text":"VET","x":1124,"y":490,"pt":10,"line":"symbol"},{"text":"$0.00093","x":1124,"y":497,"pt":4,"line":"price"},{"text":"+1.62%","x":1124,"y":501,"pt":3,"line":"change"},
{"text":"DGB","x":1124,"y":523,"pt":9,"line":"symbol"},{"text":"$0.01866","x":1124,"y":531,"pt":4,"line":"price"},{"text":"-0.25%","x":1124,"y":535,"pt":3,"line":"change"},
{"text":"ICX","x":1158,"y":485,"pt":8,"line":"symbol"},{"text":"$0.32568","x":1158,"y":490,"pt":3.5,"line":"price"},{"text":"HBAR","x":1158,"y":510,"pt":7,"line":"symbol"},{"text":"$0.03902","x":1158,"y":514,"pt":3.5,"line":"price"},{"text":"RVN","x":1158,"y":530,"pt":5,"line":"symbol"},{"text":"$0.02037","x":1158,"y":535,"pt":3,"line":"price"},{"text":"BTM","x":1183,"y":515,"pt":5,"line":"symbol"},
{"text":"EOS","x":759,"y":586,"pt":29,"line":"symbol"},{"text":"$2.51","x":759,"y":611,"pt":22,"line":"price"},{"text":"-0.27%","x":759,"y":627,"pt":11,"line":"change"},
{"text":"TRX","x":735,"y":672,"pt":18,"line":"symbol"},{"text":"$0.014682","x":733,"y":686,"pt":8.5,"line":"price"},{"text":"+0.5%","x":733,"y":695,"pt":6.5,"line":"change"},
{"text":"LSK","x":791,"y":661,"pt":9,"line":"symbol"},{"text":"$1.19","x":791,"y":668,"pt":5,"line":"price"},{"text":"NANO","x":815,"y":662,"pt":5,"line":"symbol"},
{"text":"BNB","x":893,"y":591,"pt":33,"line":"symbol"},{"text":"$16.28","x":893,"y":617,"pt":22,"line":"price"},{"text":"+1.06%","x":893,"y":636,"pt":10,"line":"change"},
{"text":"NEO","x":866,"y":677,"pt":16,"line":"symbol"},{"text":"$9.84","x":866,"y":689,"pt":11,"line":"price"},{"text":"+0.97%","x":866,"y":699,"pt":5,"line":"change"},
{"text":"ATOM","x":929,"y":678,"pt":13,"line":"symbol"},{"text":"$2.60","x":929,"y":689,"pt":8.5,"line":"price"},
{"text":"ADA","x":1034,"y":577,"pt":8,"line":"symbol"},{"text":"$0.05299","x":1034,"y":585,"pt":6,"line":"price"},{"text":"+0.62%","x":1034,"y":593,"pt":4,"line":"change"},
{"text":"XLM","x":997,"y":661,"pt":26,"line":"symbol"},{"text":"$0.065183","x":997,"y":677,"pt":7.5,"line":"price"},{"text":"-0.55%","x":997,"y":686,"pt":4.5,"line":"change"},
{"text":"XMR","x":1072,"y":653,"pt":21,"line":"symbol"},{"text":"$61.67","x":1072,"y":670,"pt":15,"line":"price"},{"text":"-0.13%","x":1072,"y":679,"pt":5,"line":"change"},
{"text":"DASH","x":1135,"y":582,"pt":13,"line":"symbol"},{"text":"$72.91","x":1135,"y":591,"pt":9.5,"line":"price"},{"text":"+0.05%","x":1135,"y":597,"pt":4,"line":"change"},
{"text":"ZEC","x":1187,"y":570,"pt":17,"line":"symbol"},{"text":"$45.33","x":1187,"y":580,"pt":9.5,"line":"price"},{"text":"-0.54%","x":1187,"y":586,"pt":3.5,"line":"change"},
{"text":"BTG","x":1175,"y":617,"pt":8,"line":"symbol"},{"text":"$8.73","x":1175,"y":624,"pt":4,"line":"price"},{"text":"KMD","x":1198,"y":607,"pt":5,"line":"symbol"},{"text":"$0.623236","x":1198,"y":611,"pt":3,"line":"price"},
{"text":"MIOTA","x":1134,"y":673,"pt":9,"line":"symbol"},{"text":"$0.198807","x":1134,"y":679,"pt":5,"line":"price"},{"text":"DCR","x":1175,"y":655,"pt":8,"line":"symbol"},{"text":"$11.78","x":1175,"y":662,"pt":4,"line":"price"},{"text":"BCD","x":1201,"y":657,"pt":7,"line":"symbol"},
{"text":"USDT","x":1319,"y":549,"pt":49,"line":"symbol"},{"text":"$0.999914","x":1319,"y":585,"pt":23.5,"line":"price"},{"text":"+0.1%","x":1319,"y":608,"pt":16.5,"line":"change"},
{"text":"LINK","x":1271,"y":86,"pt":23,"line":"symbol"},{"text":"$3.85","x":1271,"y":104,"pt":16,"line":"price"},{"text":"+0.36%","x":1271,"y":117,"pt":8.5,"line":"change"},
{"text":"LEO","x":1249,"y":178,"pt":21,"line":"symbol"},{"text":"$1.14","x":1249,"y":195,"pt":15,"line":"price"},{"text":"+0.71%","x":1249,"y":204,"pt":6.5,"line":"change"},
{"text":"USDC","x":1302,"y":181,"pt":10,"line":"symbol"},{"text":"$1.00","x":1302,"y":189,"pt":6.5,"line":"price"},{"text":"+0.02%","x":1302,"y":195,"pt":3,"line":"change"},
{"text":"HEDG","x":1343,"y":97,"pt":9,"line":"symbol"},{"text":"$2.04","x":1343,"y":105,"pt":6.5,"line":"price"},{"text":"-0.55%","x":1343,"y":111,"pt":3,"line":"change"},
{"text":"CRO","x":1391,"y":79,"pt":13,"line":"symbol"},{"text":"$0.07709","x":1391,"y":88,"pt":6.5,"line":"price"},{"text":"+0%","x":1391,"y":95,"pt":3,"line":"change"},
{"text":"MKR","x":1391,"y":120,"pt":10,"line":"symbol"},{"text":"$346.58","x":1391,"y":129,"pt":7.5,"line":"price"},{"text":"+6.53%","x":1391,"y":135,"pt":3,"line":"change"},
{"text":"THETA","x":1350,"y":157,"pt":9,"line":"symbol"},{"text":"$0.36802","x":1350,"y":164,"pt":6.5,"line":"price"},{"text":"+10.55%","x":1350,"y":171,"pt":3,"line":"change"},
{"text":"OMG","x":1398,"y":156,"pt":9,"line":"symbol"},{"text":"$1.70","x":1398,"y":164,"pt":6.5,"line":"price"},{"text":"+1.85%","x":1398,"y":170,"pt":3,"line":"change"},
{"text":"BAT","x":1350,"y":189,"pt":8,"line":"symbol"},{"text":"$0.201901","x":1350,"y":196,"pt":5.5,"line":"price"},{"text":"+1.99%","x":1350,"y":201,"pt":3,"line":"change"},
{"text":"TUSD","x":1398,"y":189,"pt":8,"line":"symbol"},{"text":"$1.00","x":1398,"y":197,"pt":6.5,"line":"price"},{"text":"+0.03%","x":1398,"y":202,"pt":3,"line":"change"},
{"text":"PAX","x":1350,"y":220,"pt":7,"line":"symbol"},{"text":"$1.00","x":1350,"y":226,"pt":5.5,"line":"price"},{"text":"+0.08%","x":1350,"y":232,"pt":3,"line":"change"},
{"text":"ZRX","x":1398,"y":220,"pt":8,"line":"symbol"},{"text":"$0.21928","x":1398,"y":226,"pt":5.5,"line":"price"},{"text":"+1.37%","x":1398,"y":231,"pt":3,"line":"change"},
{"text":"HT","x":1232,"y":255,"pt":12,"line":"symbol"},{"text":"$3.86","x":1232,"y":264,"pt":4,"line":"price"},{"text":"THR","x":1257,"y":257,"pt":8,"line":"symbol"},{"text":"$0.75428","x":1257,"y":262,"pt":3,"line":"price"},{"text":"DAI","x":1277,"y":258,"pt":6,"line":"symbol"},{"text":"ZIL","x":1303,"y":247,"pt":4,"line":"symbol"},{"text":"$0.00507","x":1303,"y":251,"pt":3,"line":"price"},{"text":"KNC","x":1303,"y":268,"pt":6,"line":"symbol"},{"text":"$0.80321","x":1303,"y":273,"pt":3,"line":"price"},{"text":"ENJ","x":1228,"y":302,"pt":6,"line":"symbol"},{"text":"SNX","x":1252,"y":289,"pt":8,"line":"symbol"},{"text":"$0.78343","x":1252,"y":295,"pt":4,"line":"price"},{"text":"REP","x":1252,"y":312,"pt":6,"line":"symbol"},{"text":"$12.89","x":1252,"y":318,"pt":5.5,"line":"price"},{"text":"CEL","x":1283,"y":292,"pt":7,"line":"symbol"},{"text":"BHT","x":1308,"y":291,"pt":7,"line":"symbol"},{"text":"JB","x":1283,"y":315,"pt":6,"line":"symbol"},{"text":"SNT","x":1308,"y":316,"pt":7,"line":"symbol"},{"text":"KCS","x":1229,"y":339,"pt":7,"line":"symbol"},{"text":"MCO","x":1254,"y":333,"pt":6,"line":"symbol"},{"text":"REN","x":1254,"y":349,"pt":5,"line":"symbol"},{"text":"DX","x":1254,"y":365,"pt":5,"line":"symbol"},{"text":"MATIC","x":1283,"y":333,"pt":5,"line":"symbol"},{"text":"NEXO","x":1308,"y":334,"pt":5,"line":"symbol"},{"text":"LEND","x":1283,"y":349,"pt":5,"line":"symbol"},{"text":"CRPT","x":1229,"y":361,"pt":4,"line":"symbol"},{"text":"BOTX","x":1229,"y":385,"pt":5,"line":"symbol"},{"text":"UBT","x":1229,"y":408,"pt":6,"line":"symbol"},{"text":"NMR","x":1247,"y":405,"pt":4,"line":"symbol"},
{"text":"Dominance: 65.66%","x":309,"y":686,"pt":18,"line":"change"}
],
"heads":[{"text":"SHA256","x":6,"y":49.5},{"text":"EtHash","x":694,"y":49.5},{"text":"Ethereum Tokens","x":1220,"y":49.5},{"text":"RPCA","x":694,"y":337.5},{"text":"Scrypt","x":962,"y":337.5},{"text":"PoS","x":1060,"y":337.5},{"text":"Other","x":1060,"y":465.5},{"text":"DPoS","x":694,"y":541.5},{"text":"DBFT","x":832,"y":541.5},{"text":"Ouroboros","x":962,"y":555.5},{"text":"Stellar","x":962,"y":613.5},{"text":"CryptoNi...","x":1039,"y":613.5},{"text":"Omni Tokens","x":1220,"y":433.5}],
"top":[{"text":"Coins and tokens","x":805,"y":20},{"text":"•","x":934,"y":20},{"text":"1 day performance","x":946,"y":20},{"text":"•","x":1086,"y":20},{"text":"Market cap","x":1098,"y":20},{"text":"•","x":1185,"y":20}]},
"layer":[
{"data":{"name":"cells"},"mark":{"type":"rect","stroke":"#000000","strokeOpacity":0.28,"strokeWidth":1},"encoding":{
"x":{"field":"x0","type":"quantitative","axis":null,"scale":{"domain":[0,1423],"nice":false,"zero":false}},"x2":{"field":"x1"},
"y":{"field":"y0","type":"quantitative","axis":null,"scale":{"domain":[0,715],"nice":false,"zero":false,"reverse":true}},"y2":{"field":"y1"},
"color":{"field":"m","type":"nominal","legend":null,"scale":{"domain":["g1","g2","g3","r1","r2","r3","n","w"],"range":["#7ec280","#4f8a51","#1f5f2d","#f07272","#c8403f","#a81e22","#bdb2b2","#d8d8d8"]}}}},
{"data":{"name":"labels"},"transform":[{"filter":"datum.pt>=30"}],"mark":{"type":"text","font":"Roboto","fontWeight":300,"dx":2,"dy":2,"color":"#000000","opacity":0.2,"baseline":"middle"},"encoding":{"x":{"field":"x","type":"quantitative"},"y":{"field":"y","type":"quantitative"},"text":{"field":"text"},"size":{"field":"pt","type":"quantitative","scale":null}}},
{"data":{"name":"labels"},"mark":{"type":"text","font":"Roboto","fontWeight":300,"color":"#ffffff","baseline":"middle"},"encoding":{"x":{"field":"x","type":"quantitative"},"y":{"field":"y","type":"quantitative"},"text":{"field":"text"},"size":{"field":"pt","type":"quantitative","scale":null},"opacity":{"field":"line","type":"nominal","legend":null,"scale":{"domain":["symbol","price","change"],"range":[1,0.92,0.75]}}}},
{"data":{"name":"heads"},"mark":{"type":"text","font":"Roboto","fontWeight":500,"fontSize":13,"color":"#dedede","align":"left","baseline":"middle"},"encoding":{"x":{"field":"x","type":"quantitative"},"y":{"field":"y","type":"quantitative"},"text":{"field":"text"}}},
{"data":{"values":[{"text":"COIN360","x":35,"y":20}]},"mark":{"type":"text","font":"Roboto","fontWeight":300,"fontSize":23,"color":"#d8d8d8","align":"left","baseline":"middle"},"encoding":{"x":{"field":"x","type":"quantitative"},"y":{"field":"y","type":"quantitative"},"text":{"field":"text"}}},
{"data":{"name":"top"},"mark":{"type":"text","font":"Roboto","fontSize":15,"letterSpacing":0.4,"color":"#c8c8c8","align":"left","baseline":"middle"},"encoding":{"x":{"field":"x","type":"quantitative"},"y":{"field":"y","type":"quantitative"},"text":{"field":"text"}}},
{"data":{"values":[{"text":"UTC: 16:30, Mon, 25 May 2020","x":1197,"y":20}]},"mark":{"type":"text","font":"Roboto","fontSize":15,"letterSpacing":0.95,"color":"#c8c8c8","align":"left","baseline":"middle"},"encoding":{"x":{"field":"x","type":"quantitative"},"y":{"field":"y","type":"quantitative"},"text":{"field":"text"}}}
]}
